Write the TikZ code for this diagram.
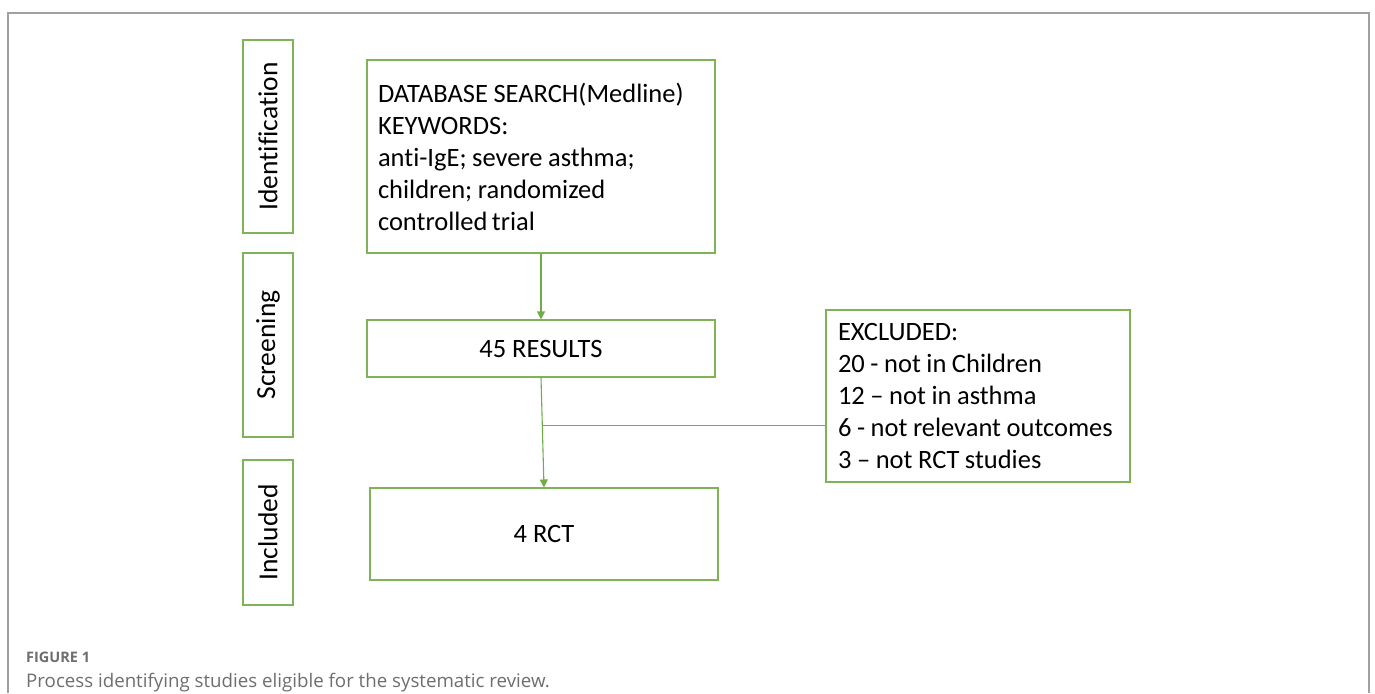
\documentclass[tikz,border=0pt]{standalone}
\usepackage{fontspec}
\setmainfont{Carlito}[Ligatures=NoCommon]
\newfontfamily\capfont{Open Sans}
\usetikzlibrary{arrows.meta,calc}
\definecolor{boxgreen}{HTML}{7FB358}
\definecolor{arrgreen}{HTML}{70AD47}
\definecolor{capgray}{HTML}{6E6E6E}
\definecolor{framegray}{HTML}{A0A0A0}
\newcommand\tightsp{\spaceskip=0.21em\relax}
\begin{document}
\begin{tikzpicture}[x=1pt,y=-1pt,
  box/.style={draw=boxgreen,line width=1.1pt,rectangle,inner sep=0pt,
    font=\fontsize{26.5}{32}\selectfont},
  side/.style={box,rotate=90,minimum height=50pt,font=\fontsize{27.5}{30}\selectfont},
  conn/.style={draw=arrgreen,line width=1.1pt},
  tip/.style={conn,-{Triangle[width=8pt,length=8pt]}}]
\useasboundingbox (0,0) rectangle (1375,693);
\draw[framegray,line width=1.5pt] (8,693) -- (8,13) -- (1369,13) -- (1369,693);
% side labels
\node[side,minimum width=193pt] (ident) at (268,136.5) {Identification};
\node[side,minimum width=184pt] (screen) at (268,345) {Screening};
\node[side,minimum width=145pt] (incl) at (268,532.5) {Included};
% main boxes
\node[box,minimum width=348pt,minimum height=193pt,text width=326pt,align=flush left] (db) at (541,156.5)
  {\tightsp DATABASE SEARCH(Medline)\\KEYWORDS:\\anti-IgE; severe asthma;\\children; randomized\\controlled\,trial};
\node[box,minimum width=348pt,minimum height=57pt] (res) at (541,348.5) {45 RESULTS};
\node[box,minimum width=348pt,minimum height=92pt] (rct) at (544,534) {4 RCT};
\node[box,minimum width=304pt,minimum height=172pt,text width=280pt,align=flush left] (excl) at (978,396)
  {\tightsp EXCLUDED:\\20 - not in Children\\12 -- not in asthma\\6 - not relevant outcomes\\3 -- not RCT studies};
% connectors
\draw[tip] (db.south) -- (res.north);
\draw[tip] (res.south) -- (rct.north);
\coordinate (mid) at ($(res.south)!0.44!(rct.north)$);
\draw[conn] (mid) -- (mid -| excl.west);
% caption
\node[anchor=base west,inner sep=0pt,text=capgray,font=\capfont\bfseries\fontsize{14.5}{18}\selectfont] (figlab) at (26,662) {FIGURE 1};
\node[anchor=base west,inner sep=0pt,text=capgray,font=\capfont\fontsize{18.7}{22}\selectfont] (cap) at (26,687) {Process identifying studies eligible for the systematic review.};
\end{tikzpicture}
\end{document}
